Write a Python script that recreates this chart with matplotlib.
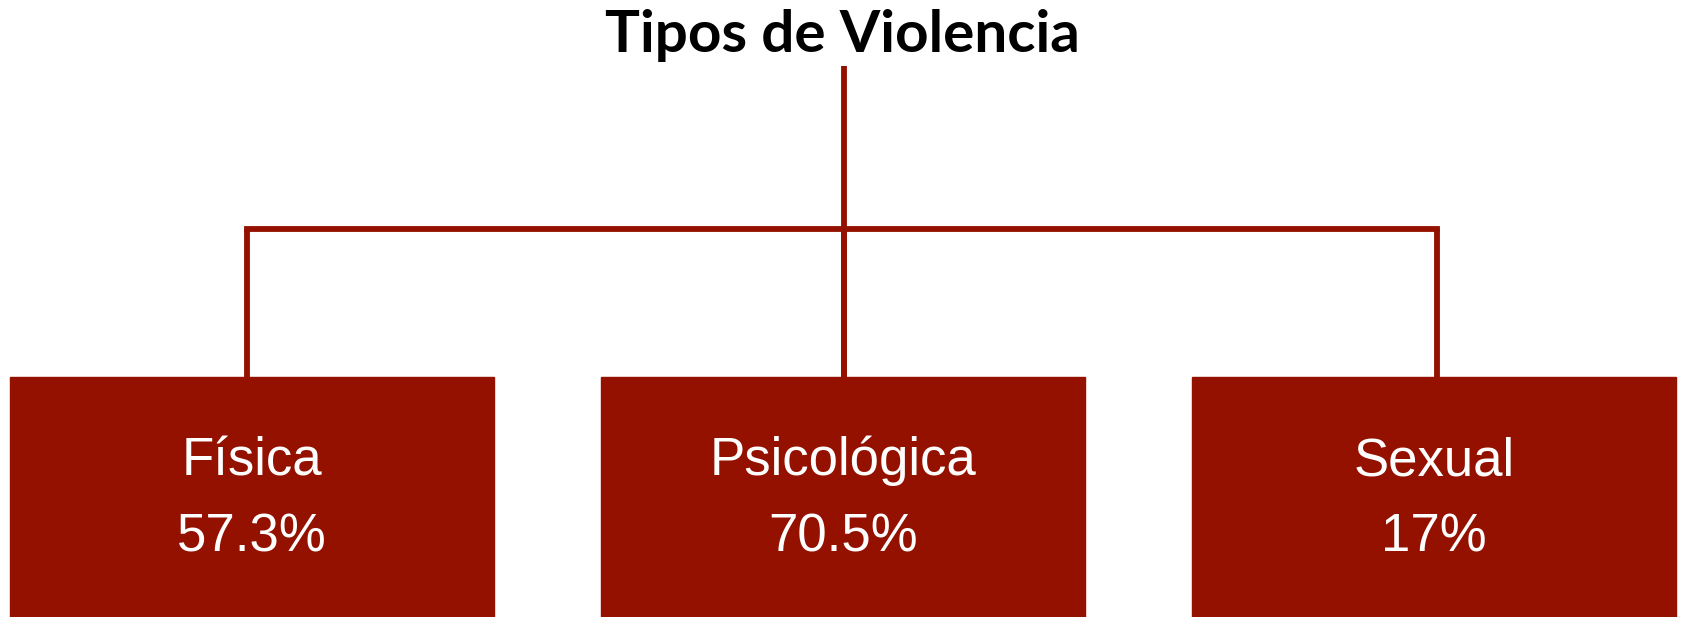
import matplotlib.pyplot as plt
from matplotlib.patches import Rectangle

title = 'Tipos de Violencia'
categories = ['Física', 'Psicológica', 'Sexual']
values = ['57.3%', '70.5%', '17%']

red = '#941100'
W, H = 1683, 617

fig = plt.figure(figsize=(W / 100, H / 100), dpi=100)
ax = fig.add_axes([0, 0, 1, 1])
ax.set_xlim(0, W)
ax.set_ylim(H, 0)
ax.axis('off')

box_left = [10, 601, 1192]
box_w = 484
box_top = 377
branch_x = [247, 844, 1437]
bar_y = 229

# connectors
ax.plot([844, 844], [66, box_top], color=red, lw=4.2, solid_capstyle='butt')
ax.plot([branch_x[0], branch_x[-1]], [bar_y, bar_y], color=red, lw=4.2, solid_capstyle='projecting')
for bx in branch_x:
    ax.plot([bx, bx], [bar_y, box_top], color=red, lw=4.2, solid_capstyle='butt')

# boxes
for left, cat, val in zip(box_left, categories, values):
    ax.add_patch(Rectangle((left, box_top), box_w, H - box_top + 5, color=red, zorder=3))
    cx = left + box_w / 2
    ax.text(cx, 475, cat, color='white', fontsize=38, family='Liberation Sans',
            ha='center', va='baseline', zorder=4)
    ax.text(cx, 552, val, color='white', fontsize=38, family='Liberation Sans',
            ha='center', va='baseline', zorder=4)

ax.text(842, 52, title, fontsize=42, fontweight='bold', family='Lato',
        ha='center', va='baseline', color='black')

fig.savefig('out.png', dpi=100)
